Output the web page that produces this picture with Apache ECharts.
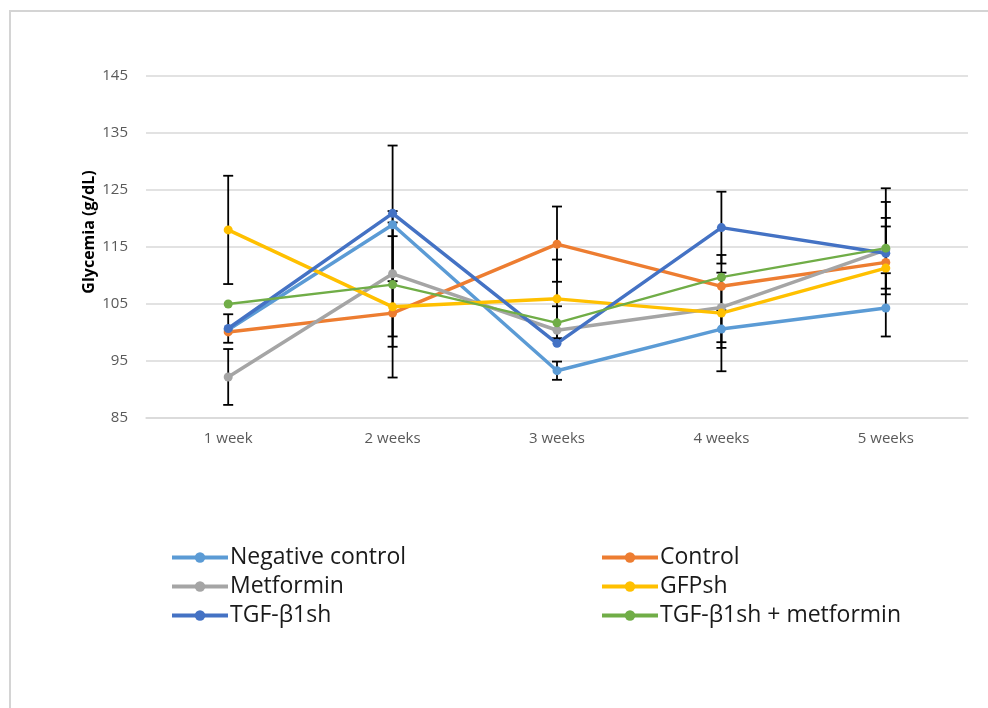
<!DOCTYPE html>
<html>
<head>
<meta charset="utf-8">
<script src="https://cdn.jsdelivr.net/npm/echarts@6/dist/echarts.min.js"></script>
<style>
html,body{margin:0;padding:0;background:#fff;}
#chart{width:988px;height:708px;}
</style>
</head>
<body>
<div id="chart"></div>
<script>
// ---- data ----
const categories = ['1 week', '2 weeks', '3 weeks', '4 weeks', '5 weeks'];
const yMin = 85;
const yMax = 145;
const yLabelStep = 10;

const negativeControl = [100.5, 118.9, 93.3, 100.6, 104.3];
const control        = [100.1, 103.4, 115.5, 108.1, 112.3];
const metformin      = [92.2, 110.3, 100.4, 104.4, 114.5];
const gfpsh          = [118.0, 104.5, 105.9, 103.4, 111.3];
const tgfb1sh        = [100.7, 120.9, 98.1, 118.4, 113.9];
const tgfb1shMet     = [105.0, 108.4, 101.7, 109.7, 114.8];

// symmetric error bar half-widths (0 = not visible)
const negativeControlErr = [0, 0, 1.6, 3.3, 0];
const controlErr         = [0, 0, 6.6, 0, 13.0];
const metforminErr       = [4.9, 11.0, 0, 6.1, 4.1];
const gfpshErr           = [9.5, 12.4, 6.9, 10.2, 0];
const tgfb1shErr         = [2.5, 11.9, 0, 6.3, 6.2];
const tgfb1shMetErr      = [0, 10.9, 2.9, 0, 8.1];

const seriesNames = ['Negative control', 'Control', 'Metformin', 'GFPsh', 'TGF-β1sh', 'TGF-β1sh + metformin'];
const seriesValues = [negativeControl, control, metformin, gfpsh, tgfb1sh, tgfb1shMet];
const seriesErrors = [negativeControlErr, controlErr, metforminErr, gfpshErr, tgfb1shErr, tgfb1shMetErr];
const seriesColors = ['#5B9BD5', '#ED7D31', '#A5A5A5', '#FFC000', '#4472C4', '#70AD47'];
const lineWidths = [3.5, 3.5, 3.5, 3.5, 3.5, 2.3];

// ---- chart ----
const chart = echarts.init(document.getElementById('chart'), null, {renderer: 'canvas'});
const FONT = '"Open Sans", "Liberation Sans", sans-serif';

const lineSeries = seriesNames.map((name, i) => ({
  name: name,
  type: 'line',
  data: seriesValues[i],
  symbol: 'circle',
  symbolSize: 9,
  z: 3,
  itemStyle: {color: seriesColors[i]},
  lineStyle: {color: seriesColors[i], width: lineWidths[i]},
  emphasis: {disabled: true}
}));

const errorSeries = seriesNames.map((name, i) => ({
  name: name + ' error',
  type: 'custom',
  z: 2,
  silent: true,
  data: seriesValues[i]
    .map((v, j) => [j, v - seriesErrors[i][j], v + seriesErrors[i][j], seriesErrors[i][j]])
    .filter(d => d[3] > 0),
  renderItem: function (params, api) {
    const x = api.value(0);
    const top = api.coord([x, api.value(2)]);
    const bot = api.coord([x, api.value(1)]);
    const hw = 5;
    const st = {stroke: '#000', lineWidth: 1.8};
    return {
      type: 'group',
      children: [
        {type: 'line', shape: {x1: top[0], y1: top[1], x2: bot[0], y2: bot[1]}, style: st},
        {type: 'line', shape: {x1: top[0] - hw, y1: top[1], x2: top[0] + hw, y2: top[1]}, style: st},
        {type: 'line', shape: {x1: bot[0] - hw, y1: bot[1], x2: bot[0] + hw, y2: bot[1]}, style: st}
      ]
    };
  }
}));

const legendCommon = {
  orient: 'vertical',
  top: 541,
  itemWidth: 56,
  itemHeight: 13,
  itemGap: 6,
  selectedMode: true,
  lineStyle: {width: 4},
  textStyle: {fontFamily: FONT, fontSize: 23, color: '#1a1a1a', lineHeight: 23, padding: [0, 0, 0, -3]}
};

const option = {
  animation: false,
  backgroundColor: '#fff',
  grid: {left: 146, right: 20, top: 76, bottom: 290, containLabel: false},
  xAxis: {
    type: 'category',
    data: categories,
    boundaryGap: true,
    axisLine: {show: true, lineStyle: {color: '#d9d9d9', width: 1.5}},
    axisTick: {show: false},
    axisLabel: {color: '#595959', fontFamily: FONT, fontSize: 15, margin: 13},
    splitLine: {show: false}
  },
  yAxis: {
    type: 'value',
    min: yMin,
    max: yMax,
    interval: yLabelStep / 2,
    axisLine: {show: false},
    axisTick: {show: false},
    axisLabel: {
      color: '#595959', fontFamily: FONT, fontSize: 15, margin: 18,
      formatter: v => ((v - yMin) % yLabelStep === 0 ? String(v) : '')
    },
    splitLine: {show: true, lineStyle: {color: ['#d9d9d9', 'rgba(0,0,0,0)'], width: 1.5}}
  },
  legend: [
    Object.assign({}, legendCommon, {left: 165, data: [seriesNames[0], seriesNames[2], seriesNames[4]]}),
    Object.assign({}, legendCommon, {left: 595, data: [seriesNames[1], seriesNames[3], seriesNames[5]]})
  ],
  graphic: [
    {
      type: 'rect',
      silent: true,
      shape: {x: 10, y: 11, width: 1100, height: 1000},
      style: {fill: 'none', stroke: '#d4d4d4', lineWidth: 2}
    },
    {
      type: 'text',
      x: 89, y: 232,
      rotation: Math.PI / 2,
      silent: true,
      style: {
        text: 'Glycemia (g/dL)',
        fontFamily: FONT, fontSize: 16, fontWeight: 'bold', fill: '#000',
        textAlign: 'center', textVerticalAlign: 'middle'
      }
    }
  ],
  series: errorSeries.concat(lineSeries)
};

chart.setOption(option);
</script>
</body>
</html>
